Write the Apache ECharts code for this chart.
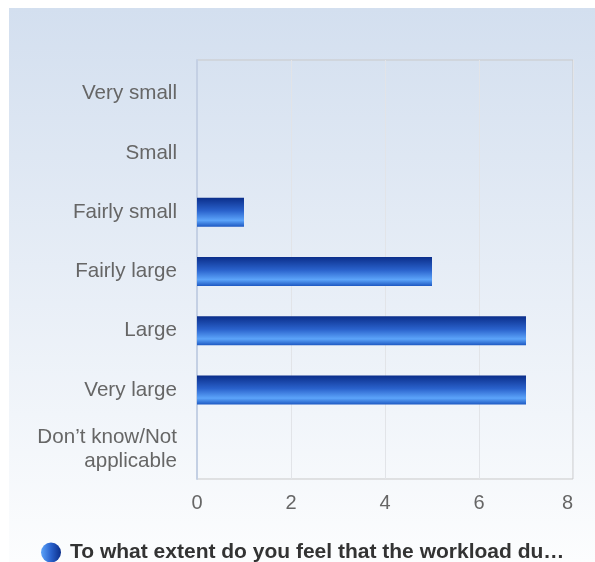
<!DOCTYPE html>
<html>
<head>
<meta charset="utf-8">
<style>
  html, body { margin: 0; padding: 0; background: #ffffff; }
  #chart { width: 595px; height: 562px; }
</style>
<script src="https://cdn.jsdelivr.net/npm/echarts@6/dist/echarts.min.js"></script>
</head>
<body>
<div id="chart"></div>
<script>
const categories = ["Very small", "Small", "Fairly small", "Fairly large", "Large", "Very large", "Don\u2019t know/Not\napplicable"];
const values = [0, 0, 1, 5, 7, 7, 0];
const seriesName = "To what extent do you feel that the workload du\u2026";
const xTicks = { min: 0, max: 8, interval: 2 };

const chart = echarts.init(document.getElementById('chart'), null, { renderer: 'canvas' });

const barGradient = new echarts.graphic.LinearGradient(0, 0, 0, 1, [
  { offset: 0, color: '#0B2E8A' },
  { offset: 0.45, color: '#2A62CC' },
  { offset: 0.78, color: '#5CA4FA' },
  { offset: 1, color: '#1D58C2' }
]);

const legendGradient = new echarts.graphic.LinearGradient(0, 0, 1, 0, [
  { offset: 0, color: '#5CA4FA' },
  { offset: 0.5, color: '#2A62CC' },
  { offset: 1, color: '#0B2E8A' }
]);

const labelFont = 'Liberation Sans, Arial, sans-serif';

chart.setOption({
  animation: false,
  backgroundColor: '#ffffff',
  graphic: [{
    type: 'rect',
    z: -10,
    silent: true,
    shape: { x: 9, y: 8, width: 586, height: 554 },
    style: {
      fill: new echarts.graphic.LinearGradient(0, 0, 0, 1, [
        { offset: 0, color: '#D3DFEF' },
        { offset: 1, color: '#FCFDFE' }
      ])
    }
  }],
  grid: [
    {
      left: 197, top: 60, right: 22, bottom: 83,
      show: true,
      borderColor: '#C9C9C9',
      borderWidth: 1,
      backgroundColor: 'transparent'
    },
    {
      left: 197, top: 64, right: 22, bottom: 83,
      show: false
    }
  ],
  legend: {
    show: true,
    top: 537,
    left: 36,
    icon: 'circle',
    itemWidth: 20,
    itemHeight: 20,
    itemGap: 10,
    textStyle: { fontFamily: labelFont, fontSize: 21, fontWeight: 'bold', color: '#333333', padding: [0, 0, 0, 4] },
    data: [{ name: seriesName, itemStyle: { color: legendGradient } }]
  },
  xAxis: [
    {
      type: 'value',
      gridIndex: 0,
      min: xTicks.min, max: xTicks.max, interval: xTicks.interval,
      axisLine: { show: false },
      axisTick: { show: false },
      splitLine: { show: true, lineStyle: { color: '#E2E4E8', width: 1 } },
      axisLabel: { color: '#666666', fontSize: 20, fontFamily: labelFont, margin: 14, alignMaxLabel: 'right' }
    },
    {
      type: 'value',
      gridIndex: 1,
      min: xTicks.min, max: xTicks.max, interval: xTicks.interval,
      show: false
    }
  ],
  yAxis: [
    {
      type: 'category',
      gridIndex: 0,
      inverse: true,
      data: categories,
      axisLine: { show: true, lineStyle: { color: '#C4D0E4', width: 2 } },
      axisTick: { show: false },
      splitLine: { show: false },
      axisLabel: { show: false }
    },
    {
      type: 'category',
      gridIndex: 1,
      inverse: true,
      data: categories,
      axisLine: { show: false },
      axisTick: { show: false },
      splitLine: { show: false },
      axisLabel: { color: '#666666', fontSize: 20.6, fontFamily: labelFont, margin: 20, lineHeight: 24, align: 'right' }
    }
  ],
  series: [{
    name: seriesName,
    type: 'bar',
    xAxisIndex: 1,
    yAxisIndex: 1,
    data: values,
    barWidth: 29,
    itemStyle: {
      color: barGradient
    }
  }]
});
</script>
</body>
</html>
